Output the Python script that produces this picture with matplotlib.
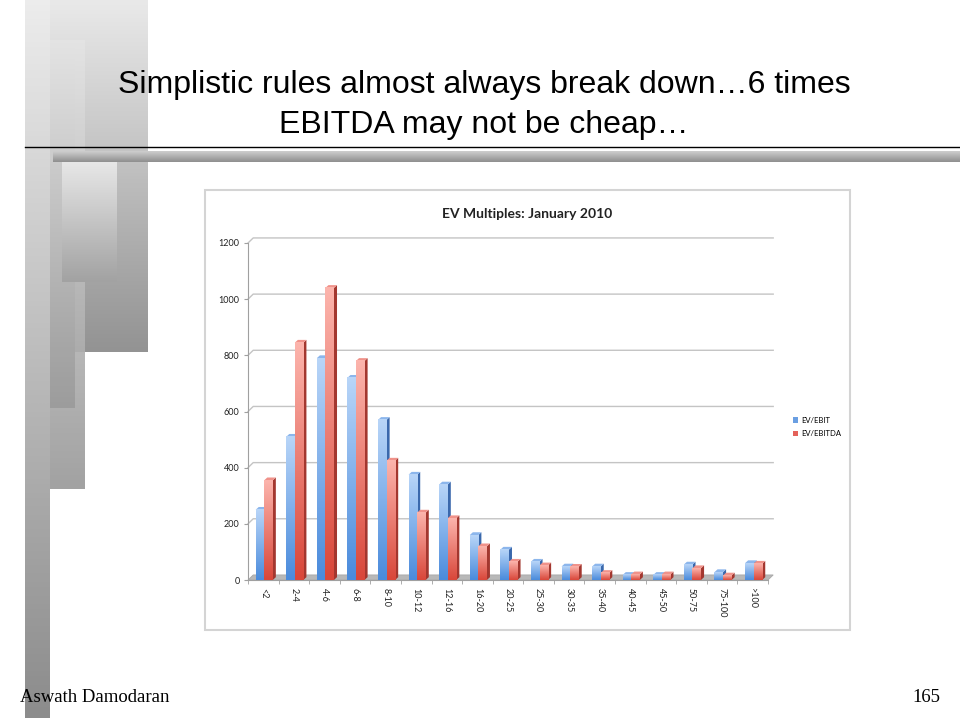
import numpy as np
import matplotlib
matplotlib.use('Agg')
import matplotlib.pyplot as plt
from matplotlib.colors import LinearSegmentedColormap
from matplotlib.patches import Polygon, Rectangle, Patch

# data
categories = ['<2', '2-4', '4-6', '6-8', '8-10', '10-12', '12-16', '16-20', '20-25',
              '25-30', '30-35', '35-40', '40-45', '45-50', '50-75', '75-100', '>100']
ev_ebit = [250, 510, 790, 720, 570, 375, 340, 160, 108, 65, 48, 48, 18, 18, 55, 28, 60]
ev_ebitda = [355, 845, 1040, 780, 425, 240, 220, 120, 65, 52, 47, 25, 20, 20, 42, 16, 58]
y_ticks = [0, 200, 400, 600, 800, 1000, 1200]

fig = plt.figure(figsize=(9.6, 7.2), dpi=100)

# slide background decoration (pixel coordinates)
bg = fig.add_axes([0, 0, 1, 1], zorder=0)
bg.set_xlim(0, 960)
bg.set_ylim(720, 0)
bg.axis('off')


def grad_rect(ax, x0, x1, y0, y1, top, bottom, alpha=1.0):
    cmap = LinearSegmentedColormap.from_list('g', [top, bottom])
    g = np.linspace(0, 1, 128).reshape(-1, 1)
    ax.imshow(g, cmap=cmap, extent=[x0, x1, y1, y0], aspect='auto',
              interpolation='bicubic', alpha=alpha)


grad_rect(bg, 33, 148, 0, 352, '#e9e9e9', '#939393')
grad_rect(bg, 46, 85, 40, 489, '#e4e4e4', '#989898', 0.9)
grad_rect(bg, 43, 75, 48, 408, '#e2e2e2', '#9a9a9a', 0.9)
grad_rect(bg, 25, 50, 0, 718, '#ececec', '#8c8c8c')
grad_rect(bg, 62, 117, 160, 282, '#e8e8e8', '#a2a2a2')
bg.plot([25, 960], [147, 147], color='black', lw=1.0)
grad_rect(bg, 53, 960, 151, 162, '#cfcfcf', '#8e8e8e')
bg.add_patch(Rectangle((205, 190), 645, 440, facecolor='white',
                       edgecolor='#d4d4d4', lw=1.5))
bg.set_xlim(0, 960)
bg.set_ylim(720, 0)

fig.text(484 / 960, 1 - 85 / 720, 'Simplistic rules almost always break down\u20266 times',
         ha='center', va='center', fontsize=23, family='Liberation Sans')
fig.text(484 / 960, 1 - 125 / 720, 'EBITDA may not be cheap\u2026',
         ha='center', va='center', fontsize=23, family='Liberation Sans')
fig.text(20 / 960, 1 - 698 / 720, 'Aswath Damodaran', ha='left', va='center',
         fontsize=13.5, family='Liberation Serif')
fig.text(940 / 960, 1 - 698 / 720, '165', ha='right', va='center',
         fontsize=13.5, family='Liberation Serif')
fig.text(527 / 960, 1 - 214 / 720, 'EV Multiples: January 2010', ha='center',
         va='center', fontsize=10, fontweight='bold', family='Lato', color='#222222')

# chart
ax = fig.add_axes([248 / 960, 1 - 580 / 720, 520 / 960, 337 / 720], zorder=2)
n = len(categories)
xmin, xmax = -0.5, n - 0.5
bw = 0.28
dx, dy = 0.1, 10       # bar depth
wx, wy = 0.17, 18      # wall depth

# back wall gridlines
for v in y_ticks[1:]:
    ax.plot([xmin, xmin + wx, xmax + wx], [v, v + wy, v + wy], color='#c4c4c4',
            lw=1.0, clip_on=False, zorder=1)
# floor
ax.add_patch(Polygon([(xmin, 0), (xmax, 0), (xmax + wx, wy), (xmin + wx, wy)],
                     closed=True, facecolor='#b8b8b8', edgecolor='#a8a8a8',
                     lw=0.6, clip_on=False, zorder=1))

series = [
    (ev_ebit, -0.25, '#b8d5f8', '#4a8bdc', '#8cb6ec', '#3a68ac'),
    (ev_ebitda, 0.03, '#fcb4ac', '#d9473a', '#f0928a', '#a3372f'),
]
for vals, off, top_c, bot_c, cap_c, side_c in series:
    cmap = LinearSegmentedColormap.from_list('b', [top_c, bot_c])
    g = np.linspace(0, 1, 64).reshape(-1, 1)
    for i, h in enumerate(vals):
        x0 = i + off
        x1 = x0 + bw
        ax.add_patch(Polygon([(x1, 0), (x1 + dx, dy), (x1 + dx, h + dy), (x1, h)],
                             closed=True, facecolor=side_c, edgecolor='none', zorder=3))
        ax.add_patch(Polygon([(x0, h), (x1, h), (x1 + dx, h + dy), (x0 + dx, h + dy)],
                             closed=True, facecolor=cap_c, edgecolor='none', zorder=3))
        ax.imshow(g, cmap=cmap, extent=[x0, x1, 0, h], aspect='auto',
                  interpolation='bicubic', zorder=3)

ax.set_xlim(xmin, xmax)
ax.set_ylim(0, 1200)
for s in ['top', 'right']:
    ax.spines[s].set_visible(False)
ax.spines['left'].set_color('#a0a0a0')
ax.spines['bottom'].set_color('#a0a0a0')
ax.set_yticks(y_ticks)
ax.set_yticklabels([str(t) for t in y_ticks], fontsize=6.5, family='Lato', color='#222222')
ax.set_xticks(range(n))
ax.set_xticklabels(categories, rotation=-90, fontsize=6.5, family='Lato', color='#222222')
ax.set_xticks(np.arange(xmin, xmax + 0.01, 1), minor=True)
ax.tick_params(axis='x', which='major', length=0, pad=6)
ax.tick_params(axis='x', which='minor', length=3, color='#a0a0a0')
ax.tick_params(axis='y', length=3, color='#a0a0a0', pad=3)
ax.set_facecolor('none')

handles = [Patch(facecolor='#6a9fe2', label='EV/EBIT'),
           Patch(facecolor='#e4625a', label='EV/EBITDA')]
ax.legend(handles=handles, loc='center left', bbox_to_anchor=(786 / 960, 1 - 427 / 720),
          bbox_transform=fig.transFigure, frameon=False, prop={'family': 'Lato', 'size': 5.5},
          handlelength=0.7, handleheight=0.7, handletextpad=0.4, labelspacing=0.9)

fig.savefig('out.png', dpi=100)
